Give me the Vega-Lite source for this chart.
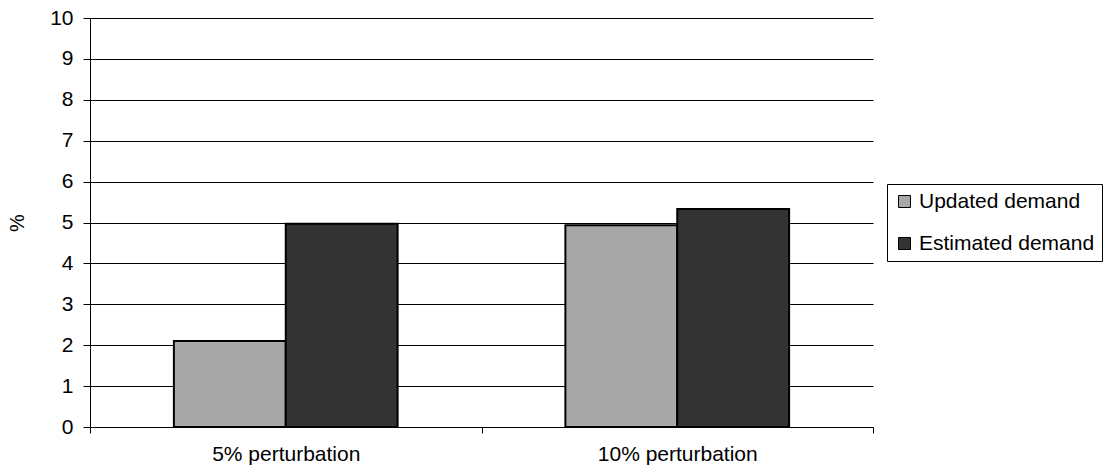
{
  "$schema": "https://vega.github.io/schema/vega-lite/v6.json",
  "width": 783,
  "height": 409,
  "autosize": "none",
  "padding": {"left": 90, "top": 18, "right": 234, "bottom": 49},
  "background": "white",
  "config": {
    "view": {"stroke": null},
    "font": "Liberation Sans"
  },
  "data": {
    "values": [
      {"scenario": "5% perturbation", "series": "Updated demand", "value": 2.1},
      {"scenario": "5% perturbation", "series": "Estimated demand", "value": 4.97},
      {"scenario": "10% perturbation", "series": "Updated demand", "value": 4.93},
      {"scenario": "10% perturbation", "series": "Estimated demand", "value": 5.33}
    ]
  },
  "mark": {"type": "bar", "stroke": "black", "strokeWidth": 2},
  "encoding": {
    "x": {
      "field": "scenario",
      "type": "nominal",
      "sort": ["5% perturbation", "10% perturbation"],
      "scale": {"paddingInner": 0, "paddingOuter": 0},
      "axis": {
        "title": null,
        "labelAngle": 0,
        "labelFontSize": 21,
        "labelColor": "black",
        "labelPadding": 10,
        "labelLimit": 0,
        "domainColor": "black",
        "domainWidth": 1,
        "tickColor": "black",
        "tickSize": 6,
        "tickBand": "extent",
        "grid": false
      }
    },
    "xOffset": {
      "field": "series",
      "type": "nominal",
      "sort": ["Updated demand", "Estimated demand"],
      "scale": {"paddingInner": 0, "paddingOuter": 0.75}
    },
    "y": {
      "field": "value",
      "type": "quantitative",
      "scale": {"domain": [0, 10], "nice": false},
      "axis": {
        "title": "%",
        "titleFontSize": 20,
        "titleFontWeight": "normal",
        "titleColor": "black",
        "titlePadding": 22,
        "values": [0,1,2,3,4,5,6,7,8,9,10],
        "labelFontSize": 21,
        "labelColor": "black",
        "labelPadding": 10,
        "domainColor": "black",
        "tickColor": "black",
        "tickSize": 7,
        "grid": true,
        "gridColor": "black",
        "gridWidth": 1,
        "gridOpacity": 1
      }
    },
    "color": {
      "field": "series",
      "type": "nominal",
      "sort": ["Updated demand", "Estimated demand"],
      "scale": {"domain": ["Updated demand", "Estimated demand"], "range": ["#a8a8a8", "#333333"]},
      "legend": {
        "title": null,
        "orient": "none",
        "legendX": 797,
        "legendY": 166,
        "labelFontSize": 21,
        "labelLimit": 0,
        "labelColor": "black",
        "symbolType": "square",
        "symbolSize": 144,
        "symbolStrokeColor": "black",
        "symbolStrokeWidth": 1,
        "symbolOpacity": 1,
        "rowPadding": 20,
        "labelOffset": 4,
        "strokeColor": "black",
        "padding": 7,
        "fillColor": "white"
      }
    }
  }
}
